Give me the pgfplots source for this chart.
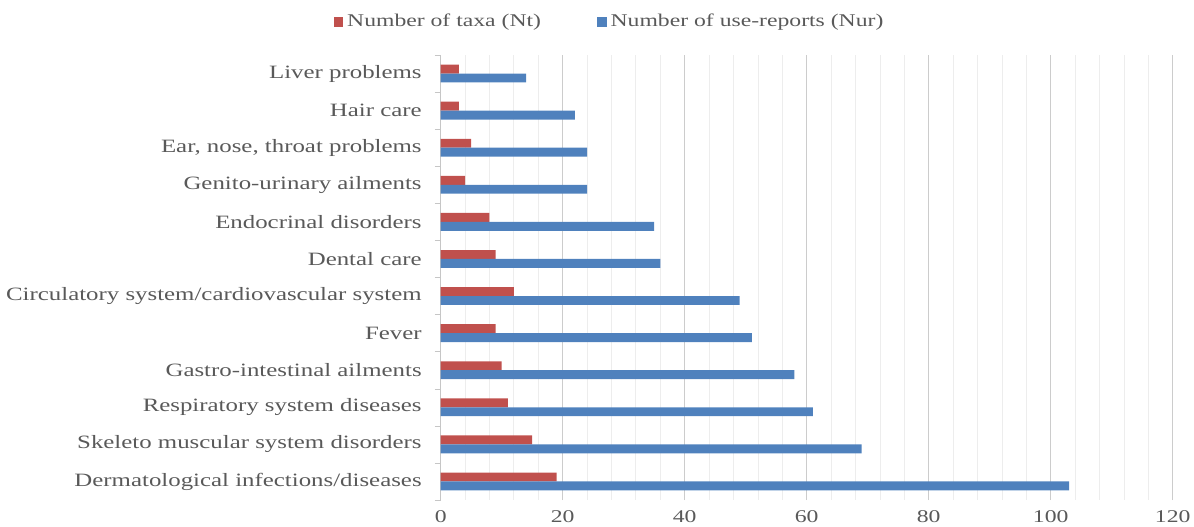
\documentclass[border=0pt]{standalone}
\usepackage{pgfplots}
\pgfplotsset{compat=1.18}
\usepackage{fontspec}
\setmainfont{Liberation Serif}[FakeStretch=1.32]
\definecolor{cred}{HTML}{C0504D}
\definecolor{cblue}{HTML}{4F81BD}
\definecolor{txt}{HTML}{595959}
\begin{document}
\begin{tikzpicture}
\begin{axis}[
  name=ax, scale only axis, width=366bp, height=222.5bp,
  xbar, xmin=0, xmax=120, ymin=-0.5, ymax=11.5,
  bar width=0.24,
  axis x line*=bottom, axis y line*=left,
  x axis line style={draw=none},
  y axis line style={draw=gray!45},
  xtick={0,20,...,120}, minor x tick num=4,
  xmajorgrids, xminorgrids,
  major grid style={draw=gray!40},
  minor grid style={draw=gray!14},
  xtick style={draw=none},
  ytick={0,...,11},
  yticklabels={Dermatological infections/diseases, Skeleto muscular system disorders, Respiratory system diseases, Gastro-intestinal ailments, Fever, Circulatory system/cardiovascular system, Dental care, Endocrinal disorders, Genito-urinary ailments, {Ear, nose, throat problems}, Hair care, Liver problems},
  minor ytick={-0.5,0.5,...,11.5},
  tick align=outside,
  ytick style={draw=gray!45},
  major tick length=0pt, minor tick length=3bp,
  yticklabel style={font=\fontsize{9.45}{10}\selectfont, text=txt, xshift=-6bp},
  xticklabel style={font=\fontsize{9}{10}\selectfont, text=txt, yshift=-2bp},
  /pgf/number format/assume math mode=true,
  legend style={at={(0.232,1.074)}, anchor=center, draw=none, fill=none,
    font=\fontsize{9}{10}\selectfont, text=txt,
    /tikz/every even column/.append style={column sep=26bp}},
  legend columns=2,
  legend image code/.code={\fill[#1] (0bp,-2.4bp) rectangle (4.8bp,2.4bp);},
]
\addplot[fill=cred, draw=none, bar shift=0.12] coordinates {
  (19,0) (15,1) (11,2) (10,3) (9,4) (12,5) (9,6) (8,7) (4,8) (5,9) (3,10) (3,11)};
\addlegendentry{Number of taxa (Nt)}
\addplot[fill=cblue, draw=none, bar shift=-0.12] coordinates {
  (103,0) (69,1) (61,2) (58,3) (51,4) (49,5) (36,6) (35,7) (24,8) (24,9) (22,10) (14,11)};
\addlegendentry{Number of use-reports (Nur)}
\end{axis}
\pgfresetboundingbox
\path ([xshift=-220.35bp,yshift=-13.5bp]ax.south west) rectangle ([xshift=10.65bp,yshift=27.5bp]ax.north east);
\end{tikzpicture}
\end{document}
